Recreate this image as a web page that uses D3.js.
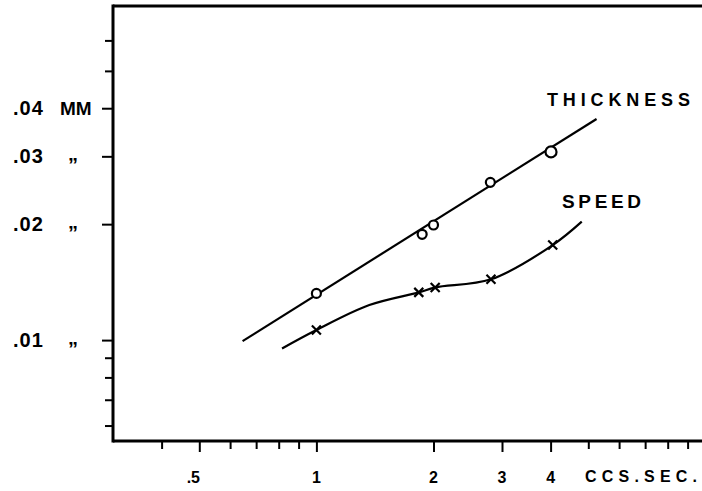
<!DOCTYPE html>
<html>
<head>
<meta charset="utf-8">
<script src="https://cdn.jsdelivr.net/npm/d3@7"></script>
<style>
  html, body { margin: 0; padding: 0; background: #fff; }
  svg text { font-family: "Liberation Sans", Arial, sans-serif; font-weight: bold; fill: #000; }
</style>
</head>
<body>
<svg id="chart" width="702" height="491"></svg>
<script>
// ---- data ----
const xLabelValues = [0.5, 1, 2, 3, 4];
const xLabels = [".5", "1", "2", "3", "4"];
const xMinorTicks = [0.4, 0.6, 0.7, 0.8, 0.9, 5, 6, 7, 8, 9];
const xUnit = "CCS.SEC.";

const yLabelValues = [0.01, 0.02, 0.03, 0.04];
const yLabels = [".01", ".02", ".03", ".04"];
const yUnits = ["\u201D", "\u201D", "\u201D", "MM"];
const yMinorTicks = [0.006, 0.007, 0.008, 0.009, 0.05, 0.06];

// Thickness: measured points (circles) and straight fitted line
const thicknessX = [1.0, 1.87, 2.0, 2.80, 4.01];
const thicknessY = [0.01322, 0.01882, 0.0199, 0.02568, 0.0308];
const thicknessLineX = [0.646, 5.25];
const thicknessLineY = [0.00994, 0.0375];

// Speed: measured points (crosses) and hand-drawn smooth curve
const speedX = [1.0, 1.833, 2.02, 2.81, 4.05];
const speedY = [0.01062, 0.0133, 0.0137, 0.01438, 0.01765];
const speedCurveX = [0.816, 1.0, 1.368, 1.833, 2.02, 2.81, 4.05, 4.81];
const speedCurveY = [0.00951, 0.01062, 0.01233, 0.0133, 0.0137, 0.01438, 0.01765, 0.0203];

const seriesLabels = ["THICKNESS", "SPEED"];

// ---- layout ----
const svg = d3.select("#chart");
const mLeft = 113, mBottom = 441, mTop = 6;
const x = d3.scaleLog().domain([0.3, 10]).range([mLeft, mLeft + 389 * Math.log10(10 / 0.3)]);
const y = d3.scaleLog().domain([0.00547, 0.0737]).range([mBottom, mTop]);

// axes frame
const axisStroke = 3;
svg.append("line").attr("x1", mLeft).attr("x2", 702).attr("y1", mTop).attr("y2", mTop)
  .attr("stroke", "#000").attr("stroke-width", axisStroke);
svg.append("line").attr("x1", mLeft).attr("x2", 702).attr("y1", mBottom).attr("y2", mBottom)
  .attr("stroke", "#000").attr("stroke-width", axisStroke);
svg.append("line").attr("x1", mLeft).attr("x2", mLeft).attr("y1", mTop - 1.5).attr("y2", mBottom + 1.5)
  .attr("stroke", "#000").attr("stroke-width", axisStroke);

function styleAxis(g) {
  g.select(".domain").remove();
  g.selectAll(".tick line").attr("stroke", "#000").attr("stroke-width", 2);
  g.selectAll(".tick text").remove();
}

// bottom ticks
svg.append("g").attr("transform", `translate(0,${mBottom})`)
  .call(d3.axisBottom(x).tickValues(xMinorTicks).tickSize(8)).call(styleAxis);
svg.append("g").attr("transform", `translate(0,${mBottom})`)
  .call(d3.axisBottom(x).tickValues(xLabelValues).tickSize(11)).call(styleAxis);

// left ticks
svg.append("g").attr("transform", `translate(${mLeft},0)`)
  .call(d3.axisLeft(y).tickValues(yMinorTicks).tickSize(8)).call(styleAxis);
svg.append("g").attr("transform", `translate(${mLeft},0)`)
  .call(d3.axisLeft(y).tickValues(yLabelValues).tickSize(11)).call(styleAxis);

// x labels
svg.selectAll("text.xl").data(xLabelValues).join("text")
  .attr("class", "xl")
  .attr("x", (d, i) => x(d) + (xLabels[i] === ".5" ? -6 : 0))
  .attr("y", 483)
  .attr("text-anchor", "middle")
  .attr("font-size", 16)
  .text((d, i) => xLabels[i]);
svg.append("text").attr("x", 585).attr("y", 482).attr("font-size", 16)
  .attr("textLength", 112).attr("lengthAdjust", "spacing").text(xUnit);

// y labels
svg.selectAll("text.yl").data(yLabelValues).join("text")
  .attr("class", "yl")
  .attr("x", 13).attr("y", d => y(d) + 7)
  .attr("font-size", 20).attr("letter-spacing", 1)
  .text((d, i) => yLabels[i]);
svg.selectAll("text.yu").data(yLabelValues).join("text")
  .attr("class", "yu")
  .attr("x", (d, i) => yUnits[i] === "MM" ? 60 : 68)
  .attr("y", (d, i) => yUnits[i] === "MM" ? y(d) + 7 : y(d) + 16)
  .attr("font-size", (d, i) => yUnits[i] === "MM" ? 19 : 20)
  .attr("font-weight", "normal")
  .text((d, i) => yUnits[i]);

// series
const thickLine = thicknessLineX.map((d, i) => [d, thicknessLineY[i]]);
const speedCurve = speedCurveX.map((d, i) => [d, speedCurveY[i]]);
const line = d3.line().x(d => x(d[0])).y(d => y(d[1]));
svg.append("path").attr("d", line(thickLine)).attr("fill", "none")
  .attr("stroke", "#000").attr("stroke-width", 2.2);
svg.append("path").attr("d", line.curve(d3.curveCatmullRom.alpha(0.5))(speedCurve)).attr("fill", "none")
  .attr("stroke", "#000").attr("stroke-width", 2.2);

// circles
svg.selectAll("circle.th").data(thicknessX).join("circle")
  .attr("class", "th")
  .attr("cx", d => x(d)).attr("cy", (d, i) => y(thicknessY[i]))
  .attr("r", (d, i) => i === 4 ? 5.5 : 4.5)
  .attr("fill", "#fff").attr("stroke", "#000").attr("stroke-width", 2.2);

// crosses
const cs = 4.5;
const cross = svg.selectAll("g.sp").data(speedX).join("g")
  .attr("class", "sp")
  .attr("transform", (d, i) => `translate(${x(d)},${y(speedY[i])})`);
cross.append("path")
  .attr("d", `M${-cs},${-cs}L${cs},${cs}M${-cs},${cs}L${cs},${-cs}`)
  .attr("stroke", "#000").attr("stroke-width", 2.2).attr("fill", "none");

// series labels
svg.append("text").attr("x", 547).attr("y", 106).attr("font-size", 18)
  .attr("textLength", 143).attr("lengthAdjust", "spacing").text(seriesLabels[0]);
svg.append("text").attr("x", 562).attr("y", 208).attr("font-size", 19)
  .attr("textLength", 79).attr("lengthAdjust", "spacing").text(seriesLabels[1]);
</script>
</body>
</html>
